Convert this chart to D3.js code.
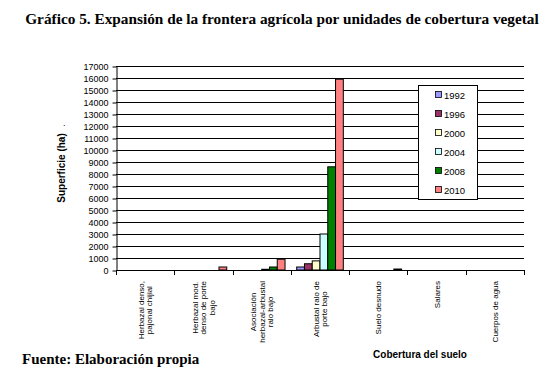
<!DOCTYPE html>
<html><head><meta charset="utf-8">
<script src="https://cdn.jsdelivr.net/npm/d3@7"></script>
<style>body{margin:0;background:#fff}</style>
</head><body>
<svg id="c" width="558" height="373"></svg>
<script>
const categories = [
  ["Herbazal denso,", "pajonal chijial"],
  ["Herbazal mod.", "denso de porte", "bajo"],
  ["Asociación", "herbazal-arbustal", "ralo bajo"],
  ["Arbustal ralo de", "porte bajo"],
  ["Suelo desnudo"],
  ["Salares"],
  ["Cuerpos de agua"]
];
const years = ["1992", "1996", "2000", "2004", "2008", "2010"];
const colors = ["#9999FF", "#993366", "#FFFFCC", "#CCFFFF", "#008000", "#FF8080"];
const v1992 = [0, 0, 0, 250, 0, 0, 0];
const v1996 = [0, 0, 0, 520, 0, 0, 0];
const v2000 = [0, 0, 0, 760, 0, 0, 0];
const v2004 = [0, 0, 60, 3000, 0, 0, 0];
const v2008 = [0, 0, 250, 8600, 0, 0, 0];
const v2010 = [0, 250, 900, 15900, 80, 0, 0];
const series = [v1992, v1996, v2000, v2004, v2008, v2010];
const yTicks = d3.range(0, 17001, 1000);

const svg = d3.select("#c");
const L = 116, R = 524, T = 66, B = 270;
const x = d3.scaleBand().domain(d3.range(categories.length)).range([L, R]).paddingInner(0).paddingOuter(0);
const y = d3.scaleLinear().domain([0, 17000]).range([B, T]);
const x1 = d3.scaleBand().domain(years).range([0, x.bandwidth()]).paddingOuter(0.75).paddingInner(0);

// title
svg.append("text").attr("x", 282).attr("y", 24).attr("text-anchor", "middle")
  .attr("font-family", "Liberation Serif, Times New Roman, serif").attr("font-weight", "bold").attr("font-size", 15.3)
  .text("Gráfico 5. Expansión de la frontera agrícola por unidades de cobertura vegetal");

// gridlines
svg.append("g").selectAll("line").data(yTicks.filter(d => d > 0)).join("line")
  .attr("x1", L).attr("x2", R).attr("y1", d => Math.round(y(d)) + 0.5).attr("y2", d => Math.round(y(d)) + 0.5)
  .attr("stroke", "#000").attr("stroke-width", 1);

// y axis
const yAxis = d3.axisLeft(y).tickValues(yTicks).tickSize(4).tickSizeOuter(0).tickFormat(d3.format("d"));
const gy = svg.append("g").attr("transform", `translate(${L + 0.5},0.5)`).call(yAxis);
gy.selectAll("text").attr("font-family", "Liberation Sans, Arial, sans-serif").attr("font-size", 9).attr("fill", "#000").attr("dx", -1);
gy.selectAll("line,path").attr("stroke", "#000");

// bars
const gb = svg.append("g");
series.forEach((vals, si) => {
  gb.selectAll(null).data(vals.map((v, i) => ({v, i}))).join("rect")
    .filter(d => d.v > 0)
    .attr("x", d => x(d.i) + x1(years[si]))
    .attr("width", x1.bandwidth())
    .attr("y", d => y(d.v))
    .attr("height", d => y(0) - y(d.v))
    .attr("fill", colors[si]).attr("stroke", "#000").attr("stroke-width", 1);
});

// x axis
const xTickPos = d3.range(categories.length + 1).map(i => L + i * x.bandwidth());
svg.append("line").attr("x1", L).attr("x2", R).attr("y1", B + 0.5).attr("y2", B + 0.5).attr("stroke", "#000");
svg.append("g").selectAll("line").data(xTickPos).join("line")
  .attr("x1", d => Math.round(d) + 0.5).attr("x2", d => Math.round(d) + 0.5)
  .attr("y1", B).attr("y2", B + 5).attr("stroke", "#000");

// category labels (rotated)
const lh = 8.5;
categories.forEach((lines, i) => {
  const cx = x(i) + x.bandwidth() / 2;
  const g = svg.append("g");
  const texts = lines.map((ln, j) => g.append("text")
    .attr("font-family", "Liberation Sans, Arial, sans-serif").attr("font-size", 8)
    .attr("text-anchor", "middle").text(ln));
  const maxW = d3.max(texts, t => t.node().getComputedTextLength());
  const cy = 281 + maxW / 2;
  const n = lines.length;
  texts.forEach((t, j) => {
    const off = (j - (n - 1) / 2) * lh;
    t.attr("transform", `translate(${cx + off + 3},${cy}) rotate(-90)`);
  });
});

// y label
svg.append("text").attr("transform", "translate(65,168) rotate(-90)").attr("text-anchor", "middle")
  .attr("font-family", "Liberation Sans, Arial, sans-serif").attr("font-weight", "bold").attr("font-size", 10)
  .text("Superficie (ha)");
svg.append("text").attr("x", 63).attr("y", 126).attr("font-family", "Liberation Sans, Arial, sans-serif").attr("font-size", 9).text(".");

// x label
svg.append("text").attr("x", 420).attr("y", 358).attr("text-anchor", "middle")
  .attr("font-family", "Liberation Sans, Arial, sans-serif").attr("font-weight", "bold").attr("font-size", 10)
  .text("Cobertura del suelo");

// source
svg.append("text").attr("x", 22).attr("y", 364)
  .attr("font-family", "Liberation Serif, Times New Roman, serif").attr("font-weight", "bold").attr("font-size", 15)
  .text("Fuente: Elaboración propia");

// legend
const lg = svg.append("g");
lg.append("rect").attr("x", 418.5).attr("y", 85.5).attr("width", 59).attr("height", 114).attr("fill", "#fff").attr("stroke", "#000");
years.forEach((yr, i) => {
  const yy = 95 + i * 19;
  lg.append("rect").attr("x", 435.5).attr("y", yy - 3.5).attr("width", 6).attr("height", 6)
    .attr("fill", colors[i]).attr("stroke", "#000").attr("stroke-width", 0.8);
  lg.append("text").attr("x", 444).attr("y", yy + 3.5)
    .attr("font-family", "Liberation Sans, Arial, sans-serif").attr("font-size", 9.5).text(yr);
});
</script>
</body></html>
